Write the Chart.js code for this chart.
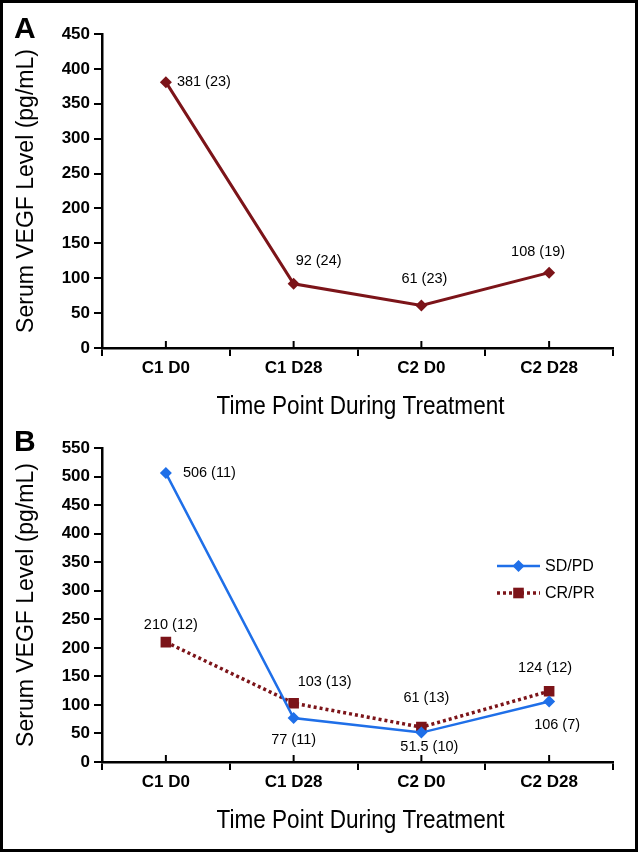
<!DOCTYPE html>
<html>
<head>
<meta charset="utf-8">
<script src="https://cdn.jsdelivr.net/npm/chart.js@4.4.1/dist/chart.umd.min.js"></script>
<style>
  html, body { margin: 0; padding: 0; background: #fff; }
  #page { position: relative; width: 638px; height: 852px; overflow: hidden; background: #fff; }
  #page canvas { position: absolute; left: 0; }
  #frame { position: absolute; left: 0; top: 0; width: 638px; height: 852px; box-sizing: border-box;
           border: 3px solid #000; pointer-events: none; }
</style>
</head>
<body>
<div id="page">
  <canvas id="chartA" width="638" height="426" style="top:0;width:638px;height:426px"></canvas>
  <canvas id="chartB" width="638" height="426" style="top:426px;width:638px;height:426px"></canvas>
  <div id="frame"></div>
</div>
<script>
// ---- data ----
const timePoints = ["C1 D0", "C1 D28", "C2 D0", "C2 D28"];

// panel A: all patients
const allValues = [381, 92, 61, 108];
const allCounts = [23, 24, 23, 19];

// panel B: by response
const sdpdValues = [506, 77, 51.5, 106];
const sdpdCounts = [11, 11, 10, 7];
const crprValues = [210, 103, 61, 124];
const crprCounts = [12, 13, 13, 12];

const yMaxA = 450;
const yMaxB = 550;
const yStep = 50;

const DARK_RED = "#7c1419";
const BLUE = "#1f6fe8";
const SANS = '"Liberation Sans", Arial, Helvetica, sans-serif';
const X_TITLE = "Time Point During Treatment";

const pointLabels = (values, counts) => values.map((v, i) => `${v} (${counts[i]})`);

// where each value label sits relative to its point: [dx, dy, align]
const labelSpotsA = [
  [[11, 0, "left"], [2, -23, "left"], [3, -26, "center"], [-11, -21, "center"]]
];
const labelSpotsB = [
  [[17, 0, "left"], [0, 22, "center"], [8, 14, "center"], [8, 24, "center"]],
  [[5, -17, "center"], [4, -21, "left"], [5, -29, "center"], [-4, -23, "center"]]
];

// draws centre ticks, condensed x title, panel letter, value labels and (optionally) the legend
const panelDecor = {
  id: "panelDecor",
  afterDraw(chart, args, opts) {
    const { ctx, chartArea } = chart;
    const x = chart.scales.x;
    ctx.save();

    // short up-ticks at category centres
    ctx.strokeStyle = "#000";
    ctx.lineWidth = 2;
    timePoints.forEach((t, i) => {
      const px = x.getPixelForValue(i);
      ctx.beginPath();
      ctx.moveTo(px, chartArea.bottom);
      ctx.lineTo(px, chartArea.bottom - 7);
      ctx.stroke();
    });

    // x axis title, squeezed to look like a condensed face
    ctx.fillStyle = "#000";
    ctx.font = "25px " + SANS;
    ctx.textAlign = "center";
    ctx.textBaseline = "middle";
    const squeeze = 288 / ctx.measureText(X_TITLE).width;
    ctx.save();
    ctx.translate((chartArea.left + chartArea.right) / 2 + 3, chartArea.bottom + 59);
    ctx.scale(squeeze, 1);
    ctx.fillText(X_TITLE, 0, 0);
    ctx.restore();

    // panel letter
    ctx.font = "bold 30px " + SANS;
    ctx.textAlign = "left";
    ctx.fillText(opts.letter, opts.letterX, opts.letterY);

    // value labels
    ctx.font = "14.5px " + SANS;
    chart.data.datasets.forEach((ds, di) => {
      const meta = chart.getDatasetMeta(di);
      meta.data.forEach((pt, i) => {
        const [dx, dy, align] = opts.spots[di][i];
        ctx.textAlign = align;
        ctx.fillText(ds.valueLabels[i], pt.x + dx, pt.y + dy);
      });
    });

    // legend
    if (opts.legend) {
      const { x0, x1, y0, gap } = opts.legend;
      chart.data.datasets.forEach((ds, di) => {
        const ly = y0 + di * gap;
        ctx.strokeStyle = ds.borderColor;
        ctx.lineWidth = ds.borderWidth;
        ctx.setLineDash(ds.borderDash || []);
        ctx.beginPath();
        ctx.moveTo(x0, ly);
        ctx.lineTo(x1, ly);
        ctx.stroke();
        ctx.setLineDash([]);
        ctx.fillStyle = ds.pointBackgroundColor;
        ctx.strokeStyle = ds.pointBackgroundColor;
        Chart.helpers.drawPoint(ctx, { pointStyle: ds.pointStyle, radius: ds.pointRadius, borderWidth: 0 },
          (x0 + x1) / 2, ly);
        ctx.fillStyle = "#000";
        ctx.font = "16px " + SANS;
        ctx.textAlign = "left";
        ctx.fillText(ds.label, x1 + 5, ly + 1);
      });
    }
    ctx.restore();
  }
};

function makeOptions(yMax, chartTop, chartBottom, canvasH, decor) {
  return {
    responsive: false,
    animation: false,
    devicePixelRatio: 1,
    layout: { padding: { top: chartTop, right: 25, bottom: 0, left: 0 } },
    plugins: {
      legend: { display: false },
      tooltip: { enabled: false },
      panelDecor: decor
    },
    scales: {
      x: {
        type: "category",
        offset: true,
        afterFit: s => { s.height = canvasH - chartBottom; },
        border: { color: "#000", width: 2.5 },
        grid: { offset: true, drawOnChartArea: false, color: "#000", lineWidth: 2, tickLength: 8 },
        ticks: { font: { family: SANS, size: 17, weight: "bold" }, color: "#000", padding: 2, maxRotation: 0 },
        title: { display: false }
      },
      y: {
        min: 0,
        max: yMax,
        afterFit: s => { s.width = 102; },
        border: { color: "#000", width: 2.5 },
        grid: { drawOnChartArea: false, color: "#000", lineWidth: 2, tickLength: 8 },
        ticks: { stepSize: yStep, font: { family: SANS, size: 17, weight: "bold" }, color: "#000", padding: 4 },
        title: {
          display: true,
          text: "Serum VEGF Level (pg/mL)",
          font: { family: SANS, size: 23 },
          color: "#000",
          padding: { top: 13, bottom: 0 }
        }
      }
    }
  };
}

new Chart(document.getElementById("chartA"), {
  type: "line",
  data: {
    labels: timePoints,
    datasets: [{
      label: "All",
      data: allValues,
      valueLabels: pointLabels(allValues, allCounts),
      borderColor: DARK_RED,
      borderWidth: 3,
      pointStyle: "rectRot",
      pointRadius: 6,
      pointBackgroundColor: DARK_RED,
      pointBorderWidth: 0,
      tension: 0
    }]
  },
  options: makeOptions(yMaxA, 34, 348, 426,
    { letter: "A", letterX: 14, letterY: 30, spots: labelSpotsA }),
  plugins: [panelDecor]
});

new Chart(document.getElementById("chartB"), {
  type: "line",
  data: {
    labels: timePoints,
    datasets: [{
      label: "SD/PD",
      data: sdpdValues,
      valueLabels: pointLabels(sdpdValues, sdpdCounts),
      borderColor: BLUE,
      borderWidth: 2.5,
      pointStyle: "rectRot",
      pointRadius: 6,
      pointBackgroundColor: BLUE,
      pointBorderWidth: 0,
      tension: 0
    }, {
      label: "CR/PR",
      data: crprValues,
      valueLabels: pointLabels(crprValues, crprCounts),
      borderColor: DARK_RED,
      borderWidth: 3.5,
      borderDash: [3, 3],
      pointStyle: "rect",
      pointRadius: 7.5,
      pointBackgroundColor: DARK_RED,
      pointBorderWidth: 0,
      tension: 0
    }]
  },
  options: makeOptions(yMaxB, 22, 336, 426,
    { letter: "B", letterX: 14, letterY: 17, spots: labelSpotsB,
      legend: { x0: 497, x1: 540, y0: 140, gap: 27 } }),
  plugins: [panelDecor]
});
</script>
</body>
</html>
